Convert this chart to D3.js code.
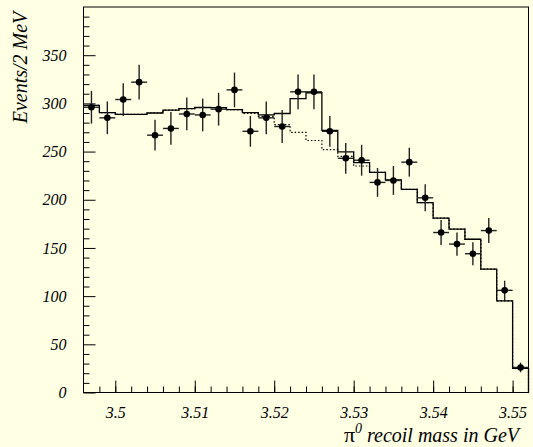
<!DOCTYPE html>
<html>
<head>
<meta charset="utf-8">
<script src="https://cdn.jsdelivr.net/npm/d3@7"></script>
<style>
  html, body { margin: 0; padding: 0; background: #ffffe4; }
  svg { display: block; }
  svg text { font-family: "Liberation Serif", "DejaVu Serif", serif !important; font-style: italic; fill: #000; }
</style>
</head>
<body>
<svg id="chart" width="533" height="447"></svg>
<script>
// ---- data ----
const binCenters = [3.497, 3.499, 3.501, 3.503, 3.505, 3.507, 3.509, 3.511, 3.513, 3.515,
                    3.517, 3.519, 3.521, 3.523, 3.525, 3.527, 3.529, 3.531, 3.533, 3.535,
                    3.537, 3.539, 3.541, 3.543, 3.545, 3.547, 3.549, 3.551];
const dataValues = [296, 285, 304, 322, 267, 274, 289, 288, 294, 314,
                    271, 285, 276, 312, 312, 271, 243, 241, 218, 220,
                    239, 202, 166, 154, 144, 168, 106, 26];
const dataErrors = [17, 17, 17, 18, 16, 17, 17, 17, 17, 18,
                    16, 17, 17, 18, 18, 16, 16, 16, 15, 15,
                    15, 14, 13, 12, 12, 13, 10, 5];
const fitTotal = [298, 290.5, 288.5, 288.5, 290, 293, 294.6, 295.7, 295.5, 293.6,
                  290.5, 288, 289.5, 305, 311, 272, 249.7, 238.5, 228.5, 220.5,
                  210.7, 197, 181, 169.5, 159, 128, 95, 25];
const fitBackground = [298, 290.5, 288.5, 288.5, 290, 293, 294.6, 295.7, 295.5, 293.6,
                       289.5, 286.5, 278, 270, 261.5, 252, 245, 235, 228.5, 220.5,
                       210.7, 197, 181, 169.5, 159, 128, 95, 25];
const binWidth = 0.002;
const xTickValues = [3.50, 3.51, 3.52, 3.53, 3.54, 3.55];
const xTickLabels = ["3.5", "3.51", "3.52", "3.53", "3.54", "3.55"];
const yTickValues = [0, 50, 100, 150, 200, 250, 300, 350];
const yTickLabels = ["0", "50", "100", "150", "200", "250", "300", "350"];
const xDomain = [3.496, 3.552];
const yDomain = [0, 400];
const yTitle = "Events/2 MeV";
const xTitleSymbol = "\u03C0";
const xTitleSup = "0";
const xTitleRest = " recoil mass in GeV";

// ---- layout ----
const FONT = '"Liberation Serif", "DejaVu Serif", serif';
const svg = d3.select("#chart");
const mLeft = 83.5, mRight = 528.5, mTop = 7, mBottom = 392.5;

const x = d3.scaleLinear().domain(xDomain).range([mLeft, mRight]);
const y = d3.scaleLinear().domain(yDomain).range([mBottom, mTop]);

// frame
svg.append("rect")
  .attr("x", mLeft).attr("y", mTop)
  .attr("width", mRight - mLeft).attr("height", mBottom - mTop)
  .attr("fill", "none").attr("stroke", "#000").attr("stroke-width", 1);

// minor ticks
const xMinor = d3.range(0, 28).map(i => 3.498 + i * 0.002).filter(v => v < 3.5515);
const yMinor = d3.range(0, 40).map(i => i * 10).filter(v => v % 50 !== 0);

const xAxisMinor = svg.append("g").attr("transform", `translate(0,${mBottom})`)
  .call(d3.axisBottom(x).tickValues(xMinor).tickSize(-6).tickFormat(""));
const xAxisMajor = svg.append("g").attr("transform", `translate(0,${mBottom})`)
  .call(d3.axisBottom(x).tickValues(xTickValues).tickSize(-12)
        .tickFormat((d, i) => xTickLabels[i]).tickPadding(13));
const yAxisMinor = svg.append("g").attr("transform", `translate(${mLeft},0)`)
  .call(d3.axisLeft(y).tickValues(yMinor).tickSize(-6).tickFormat(""));
const yAxisMajor = svg.append("g").attr("transform", `translate(${mLeft},0)`)
  .call(d3.axisLeft(y).tickValues(yTickValues).tickSize(-12)
        .tickFormat((d, i) => yTickLabels[i]).tickPadding(17));

[xAxisMinor, xAxisMajor, yAxisMinor, yAxisMajor].forEach(g => {
  g.select(".domain").remove();
  g.attr("font-family", FONT).attr("font-style", "italic").attr("font-size", 16);
  g.selectAll(".tick line").attr("stroke", "#000").attr("stroke-width", 1);
  g.selectAll(".tick text")
    .attr("font-family", FONT)
    .attr("font-style", "italic")
    .attr("font-size", 16)
    .attr("fill", "#000");
});
xAxisMajor.selectAll(".tick text").attr("dy", "0.75em");

// histogram step paths
function stepPath(vals) {
  const p = d3.path();
  vals.forEach((v, i) => {
    const x0 = x(binCenters[i] - binWidth / 2), x1 = x(binCenters[i] + binWidth / 2);
    if (i === 0) p.moveTo(x0, y(v)); else p.lineTo(x0, y(v));
    p.lineTo(x1, y(v));
  });
  const last = vals.length - 1;
  p.lineTo(x(binCenters[last] + binWidth / 2), y(0));
  return p.toString();
}

svg.append("path")
  .attr("d", stepPath(fitBackground))
  .attr("fill", "none").attr("stroke", "#000")
  .attr("stroke-width", 1.2).attr("stroke-dasharray", "1.5,2");

svg.append("path")
  .attr("d", stepPath(fitTotal))
  .attr("fill", "none").attr("stroke", "#000")
  .attr("stroke-width", 1.3);

// data points with error bars
const pts = svg.append("g");
binCenters.forEach((c, i) => {
  const v = dataValues[i], e = dataErrors[i];
  pts.append("line")
    .attr("x1", x(c)).attr("x2", x(c))
    .attr("y1", y(v - e)).attr("y2", y(v + e))
    .attr("stroke", "#222").attr("stroke-width", 1.4);
  pts.append("line")
    .attr("x1", x(c - binWidth / 2)).attr("x2", x(c + binWidth / 2))
    .attr("y1", y(v)).attr("y2", y(v))
    .attr("stroke", "#222").attr("stroke-width", 1.4);
  pts.append("circle")
    .attr("cx", x(c)).attr("cy", y(v)).attr("r", 3.3)
    .attr("fill", "#000");
});

// titles
svg.append("text")
  .attr("transform", `translate(27,${(10 + 125) / 2}) rotate(-90)`)
  .attr("text-anchor", "middle")
  .attr("font-family", FONT).attr("font-style", "italic")
  .attr("font-size", 20)
  .text(yTitle);

const xt = svg.append("text")
  .attr("x", 519).attr("y", 442)
  .attr("text-anchor", "end")
  .attr("font-family", FONT).attr("font-style", "italic")
  .attr("font-size", 20);
xt.append("tspan").style("font-style", "normal").attr("font-size", 22).text(xTitleSymbol);
xt.append("tspan").attr("dy", -9).attr("font-size", 14).text(xTitleSup);
xt.append("tspan").attr("dy", 9).text(xTitleRest);
</script>
</body>
</html>
